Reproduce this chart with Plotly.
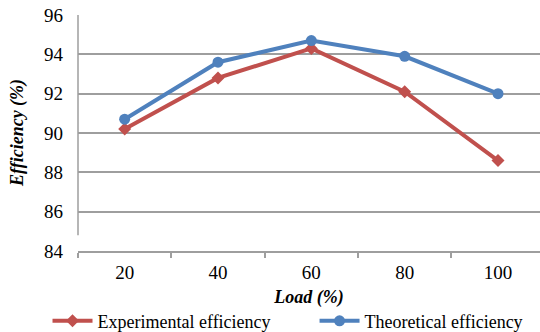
import plotly.graph_objects as go

# Load levels and efficiency series (%)
load_labels = ["20", "40", "60", "80", "100"]
experimental_eff = [90.2, 92.8, 94.3, 92.1, 88.6]
theoretical_eff = [90.7, 93.6, 94.7, 93.9, 92.0]

FONT = "Liberation Serif"
RED = "#C0504D"
BLUE = "#4F81BD"
GRID = "#9E9E9E"

fig = go.Figure()
fig.add_trace(go.Scatter(
    x=load_labels, y=experimental_eff, name="Experimental efficiency",
    mode="lines+markers",
    line=dict(color=RED, width=4),
    marker=dict(symbol="diamond", size=10, color=RED),
    legend="legend",
))
fig.add_trace(go.Scatter(
    x=load_labels, y=theoretical_eff, name="Theoretical efficiency",
    mode="lines+markers",
    line=dict(color=BLUE, width=4),
    marker=dict(symbol="circle", size=11, color=BLUE),
    legend="legend2",
))

# Vertical axis line (stops just short of the category axis)
fig.add_shape(type="line", xref="paper", yref="y", x0=0, x1=0, y0=84.8, y1=96,
              line=dict(color=GRID, width=1.5))

# Vertical axis title
fig.add_annotation(x=-0.132, y=0.5, xref="paper", yref="paper", showarrow=False,
                   xanchor="center", yanchor="middle", textangle=-90,
                   text="<b><i>Efficiency (%)</i></b>",
                   font=dict(family=FONT, size=18, color="black"))

legend_style = dict(
    orientation="h", xanchor="left", y=-0.297, yanchor="middle",
    font=dict(family=FONT, size=18, color="black"),
    itemwidth=40, bgcolor="rgba(0,0,0,0)",
)

fig.update_layout(
    template="none",
    width=540, height=332,
    margin=dict(l=78, r=0, t=15, b=81, autoexpand=False),
    paper_bgcolor="white", plot_bgcolor="white",
    font=dict(family=FONT, color="black"),
    showlegend=True,
    legend=dict(x=-0.066, **legend_style),
    legend2=dict(x=0.512, **legend_style),
    xaxis=dict(
        type="category", range=[-0.5, 4.45],
        showgrid=False, showline=True, linecolor=GRID, linewidth=2,
        ticks="outside", tickson="boundaries", ticklen=5, tickcolor=GRID, tickwidth=1.5,
        ticklabelstandoff=3,
        tickfont=dict(family=FONT, size=19, color="black"),
        title=dict(text="<b><i>Load (%)</i></b>", font=dict(family=FONT, size=18, color="black"),
                   standoff=9),
    ),
    yaxis=dict(
        range=[84, 96], tickvals=[84, 86, 88, 90, 92, 94, 96],
        showgrid=True, gridcolor=GRID, gridwidth=1.5,
        showline=False, zeroline=False, ticks="",
        ticklabelstandoff=14,
        tickfont=dict(family=FONT, size=19, color="black"),
    ),
)

fig.write_html("out.html")
